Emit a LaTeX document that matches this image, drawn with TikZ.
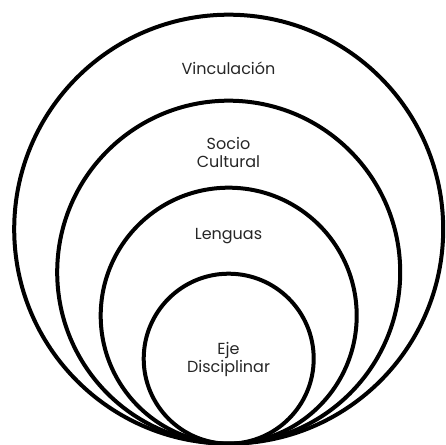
\documentclass[tikz,border=0pt]{standalone}
\usepackage{fontspec}
\setmainfont{Poppins}
\usetikzlibrary{shapes}

\begin{document}
\begin{tikzpicture}[x=0.75pt,y=0.75pt,
					ring/.style={draw, line width=3pt},
					ringtext/.style={align=center, text=black!85, inner sep=0pt, font=\fontsize{12}{13.5}\selectfont}]
    \useasboundingbox (0,0) rectangle (446,445);
    % Draw circles
    \draw [ring] (228.7,215.8) circle (214.5);
    \draw [ring] (228.7,172.8) circle (171.5);
    \draw [ring] (228.7,129.3) circle (128);
    \draw [ring] (228.7,86.3) circle (85);
    % Place nodes
    \node [ringtext] (vinculacion) at (228.5,377){Vinculación};
    \node [ringtext] (socio) at (228.5,292.5){Socio\\Cultural};
    \node [ringtext] (lenguas) at (228.5,208.5){Lenguas};
    \node [ringtext] (eje) at (228.5,85.5){Eje\\Disciplinar};
\end{tikzpicture}
\end{document}
